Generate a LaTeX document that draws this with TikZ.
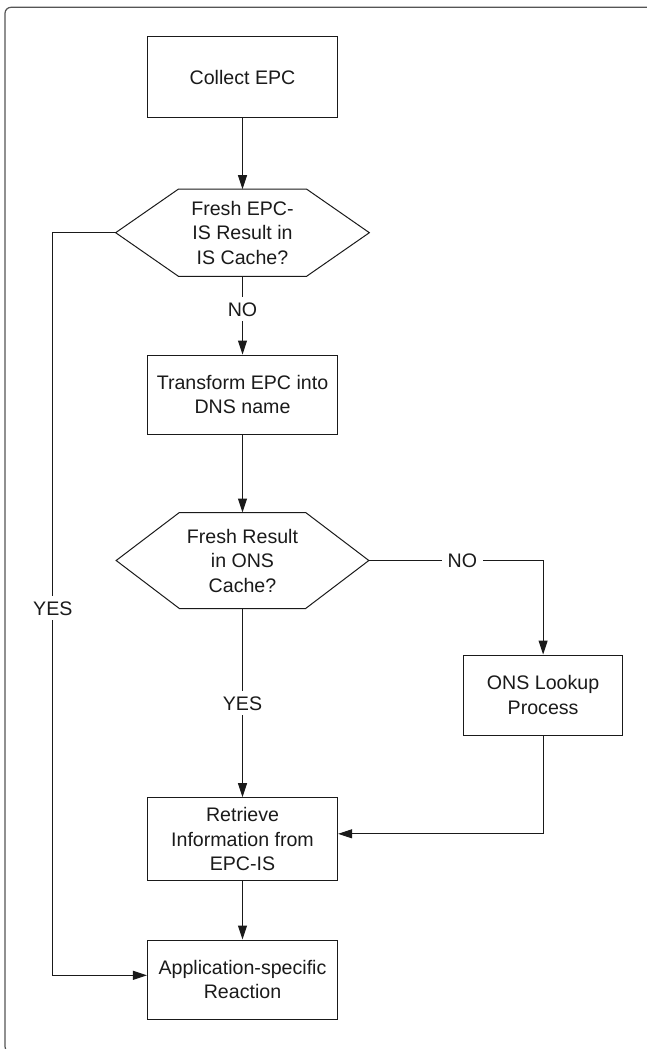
\documentclass[tikz,border=0pt]{standalone}
\usepackage{fontspec}
\setmainfont{Liberation Sans}
\usetikzlibrary{arrows.meta}
\definecolor{ink}{HTML}{1A1A1A}
\definecolor{framec}{HTML}{555555}
\begin{document}
\begin{tikzpicture}[x=1pt,y=-1pt,
  txt/.style={font=\fontsize{19.6pt}{24.5pt}\selectfont, text=ink, align=center},
  box/.style={txt, draw=ink, line width=1pt, minimum width=190.2pt, inner sep=0pt},
  hexcore/.style={txt, draw=none, inner sep=0pt},
  shapeline/.style={draw=ink, line width=1pt},
  lbl/.style={txt, inner xsep=6pt, inner ysep=5pt},
  conn/.style={draw=ink, line width=1pt},
  arr/.style={conn, -{Triangle[length=14pt,width=9pt]}}]
\useasboundingbox (0,0) rectangle (647,1049);
% outer frame
\draw[framec, line width=1.2pt, rounded corners=6pt] (5,7.3) rectangle (660,1052.5);

% nodes
\node[box, minimum height=81.4pt] (collect) at (242.5,77) {Collect EPC};
\node[hexcore, minimum width=253.3pt, minimum height=86.7pt] (h1) at (242.5,232.7) {Fresh EPC-\\IS Result in\\IS Cache?};
\draw[shapeline] (h1.west) -- ([xshift=62.7pt]h1.north west) -- ([xshift=-62.7pt]h1.north east) -- (h1.east) -- ([xshift=-62.7pt]h1.south east) -- ([xshift=62.7pt]h1.south west) -- cycle;
\node[lbl] (no1) at (242.5,309.3) {NO};
\node[box, minimum height=79.3pt] (trans) at (242.5,394.7) {Transform EPC into\\DNS name};
\node[hexcore, minimum width=252.3pt, minimum height=95.6pt] (h2) at (242.5,560.5) {Fresh Result\\in ONS\\Cache?};
\draw[shapeline] (h2.west) -- ([xshift=63.2pt]h2.north west) -- ([xshift=-63.2pt]h2.north east) -- (h2.east) -- ([xshift=-63.2pt]h2.south east) -- ([xshift=63.2pt]h2.south west) -- cycle;
\node[lbl] (no2) at (462.4,560.5) {NO};
\node[box, minimum width=158.4pt, minimum height=80pt] (ons) at (543.1,695) {ONS Lookup\\Process};
\node[lbl] (yes2) at (242.5,703.3) {YES};
\node[box, minimum height=83.3pt] (ret) at (242.5,839.3) {Retrieve\\Information from\\EPC-IS};
\node[box, minimum height=79pt] (app) at (242.5,979.5) {Application-specific\\Reaction};
\node[lbl] (yes1) at (52.8,608.3) {YES};

% connectors
\draw[arr] (collect.south) -- (h1.north);
\draw[conn] (h1.south) -- (no1.north);
\draw[arr] (no1.south) -- (trans.north);
\draw[arr] (trans.south) -- (h2.north);
\draw[conn] (h2.east) -- (no2.west);
\draw[arr] (no2.east) -| (ons.north);
\draw[conn] (h2.south) -- (yes2.north);
\draw[arr] (yes2.south) -- (ret.north);
\draw[arr] (ons.south) |- ([yshift=5.5pt]ret.east);
\draw[arr] (ret.south) -- (app.north);
\draw[conn] (h1.west) -| (yes1.north);
\draw[arr] (yes1.south) |- ([yshift=4.2pt]app.west);
\end{tikzpicture}
\end{document}
